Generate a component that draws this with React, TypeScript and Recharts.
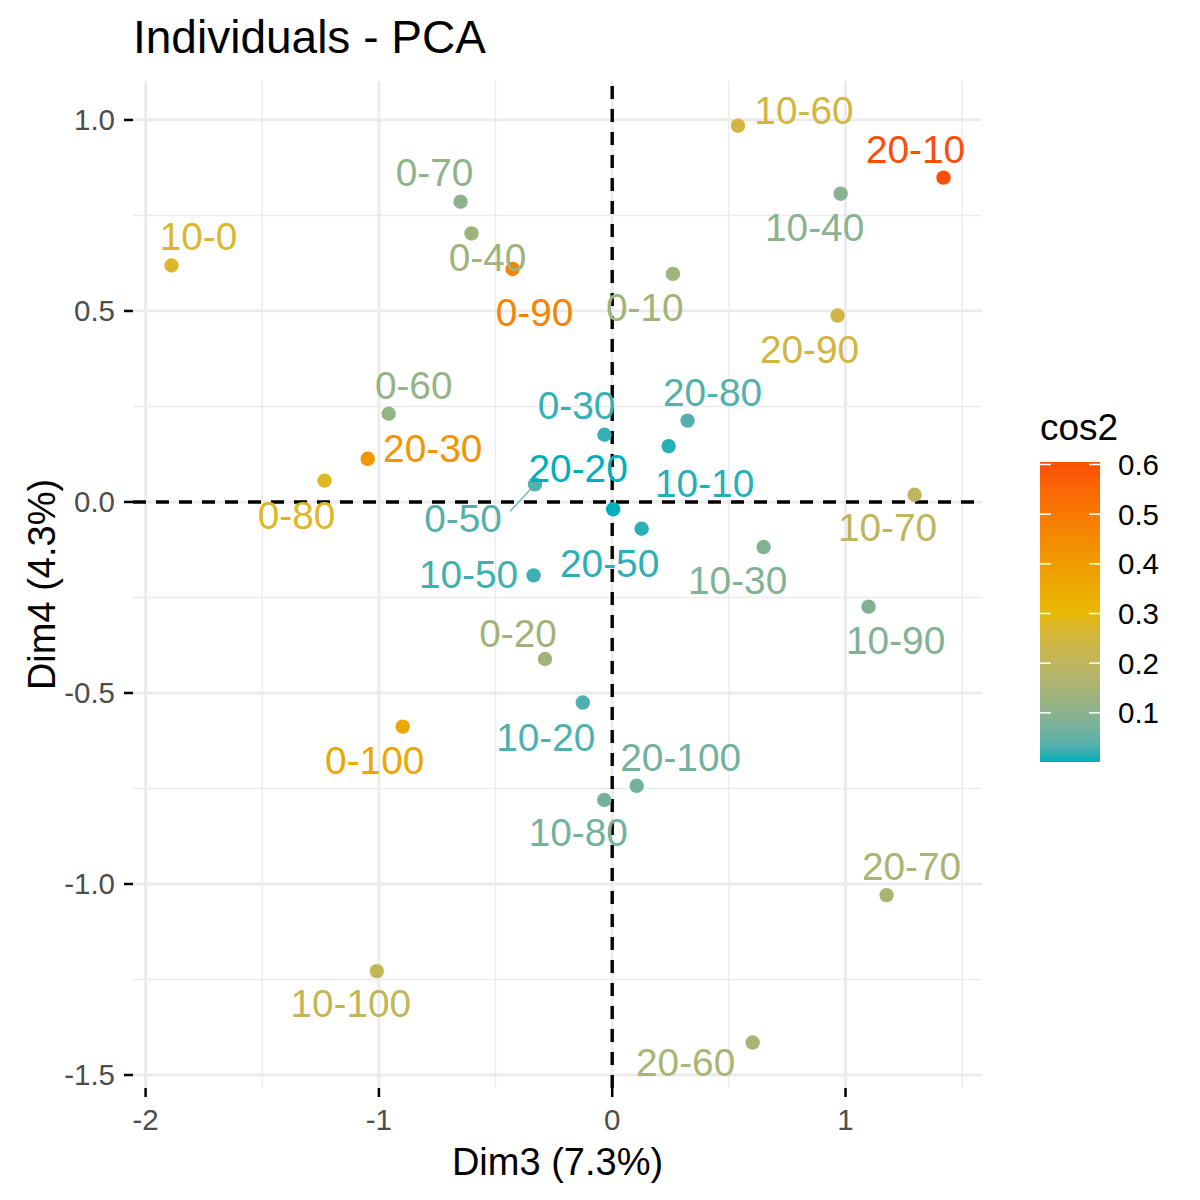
import { ReferenceLine, Scatter, ScatterChart, XAxis, YAxis } from 'recharts'

const names = [
  '0-10', '0-20', '0-30', '0-40', '0-50', '0-60', '0-70', '0-80', '0-90', '0-100',
  '10-0', '10-10', '10-20', '10-30', '10-40', '10-50', '10-60', '10-70', '10-80', '10-90', '10-100',
  '20-10', '20-20', '20-30', '20-50', '20-60', '20-70', '20-80', '20-90', '20-100',
]
const dim3 = [
  0.26, -0.288, -0.033, -0.603, -0.331, -0.958, -0.65, -1.233, -0.427, -0.898,
  -1.889, 0.242, -0.126, 0.649, 0.979, -0.337, 0.539, 1.296, -0.034, 1.099, -1.009,
  1.42, 0.004, -1.048, 0.126, 0.602, 1.176, 0.323, 0.966, 0.105,
]
const dim4 = [
  0.597, -0.411, 0.176, 0.703, 0.046, 0.231, 0.786, 0.056, 0.61, -0.588,
  0.619, 0.146, -0.525, -0.118, 0.807, -0.192, 0.985, 0.019, -0.78, -0.274, -1.228,
  0.849, -0.019, 0.113, -0.07, -1.415, -1.029, 0.213, 0.488, -0.743,
]
const cos2 = [
  0.135, 0.14, 0.015, 0.135, 0.035, 0.115, 0.105, 0.28, 0.47, 0.36,
  0.27, 0.008, 0.03, 0.085, 0.095, 0.02, 0.245, 0.2, 0.065, 0.085, 0.21,
  0.605, 0.001, 0.42, 0.01, 0.155, 0.155, 0.035, 0.24, 0.065,
]

const xTicks = [-2, -1, 0, 1]
const yTicks = [-1.5, -1, -0.5, 0, 0.5, 1]
const xMinor = [-1.5, -0.5, 0.5, 1.5]
const yMinor = [-1.25, -0.75, -0.25, 0.25, 0.75]
const legendTicks = [0.1, 0.2, 0.3, 0.4, 0.5, 0.6]
const gradientCols = ['#00AFBB', '#E7B800', '#FC4E07']

// where ggrepel put each label, in px from its point
const labelNudge: Record<string, { dx: number; dy: number; seg?: [number, number] }> = {
  '0-10': { dx: -28, dy: 33 },
  '0-20': { dx: -27, dy: -26 },
  '0-30': { dx: -28, dy: -30 },
  '0-40': { dx: 16, dy: 24 },
  '0-50': { dx: -72, dy: 34, seg: [-25, 27] },
  '0-60': { dx: 25, dy: -29 },
  '0-70': { dx: -26, dy: -30 },
  '0-80': { dx: -28, dy: 34 },
  '0-90': { dx: 22, dy: 43 },
  '0-100': { dx: -28, dy: 33 },
  '10-0': { dx: 27, dy: -29 },
  '10-10': { dx: 36, dy: 37 },
  '10-20': { dx: -37, dy: 34 },
  '10-30': { dx: -26, dy: 33 },
  '10-40': { dx: -26, dy: 33 },
  '10-50': { dx: -65, dy: -1 },
  '10-60': { dx: 66, dy: -16 },
  '10-70': { dx: -27, dy: 32 },
  '10-80': { dx: -26, dy: 32 },
  '10-90': { dx: 27, dy: 33 },
  '10-100': { dx: -26, dy: 32 },
  '20-10': { dx: -28, dy: -29 },
  '20-20': { dx: -35, dy: -41 },
  '20-30': { dx: 65, dy: -11 },
  '20-50': { dx: -32, dy: 34 },
  '20-60': { dx: -67, dy: 19 },
  '20-70': { dx: 25, dy: -29 },
  '20-80': { dx: 25, dy: -29 },
  '20-90': { dx: -28, dy: 33 },
  '20-100': { dx: 44, dy: -29 },
}

const font = '"Liberation Sans", Arial, sans-serif'

// --- colour scale, interpolated in Lab like scales::gradient_n_pal ---
const toLin = (c: number) => (c <= 0.04045 ? c / 12.92 : Math.pow((c + 0.055) / 1.055, 2.4))
const toGam = (c: number) => (c <= 0.0031308 ? 12.92 * c : 1.055 * Math.pow(c, 1 / 2.4) - 0.055)
const fLab = (t: number) => (t > 0.008856 ? Math.cbrt(t) : 7.787 * t + 16 / 116)
const fInv = (t: number) => (t * t * t > 0.008856 ? t * t * t : (t - 16 / 116) / 7.787)

function hexToLab(hex: string) {
  const r = toLin(parseInt(hex.slice(1, 3), 16) / 255)
  const g = toLin(parseInt(hex.slice(3, 5), 16) / 255)
  const b = toLin(parseInt(hex.slice(5, 7), 16) / 255)
  const X = (0.4124564 * r + 0.3575761 * g + 0.1804375 * b) / 0.95047
  const Y = 0.2126729 * r + 0.7151522 * g + 0.072175 * b
  const Z = (0.0193339 * r + 0.119192 * g + 0.9503041 * b) / 1.08883
  const fx = fLab(X)
  const fy = fLab(Y)
  const fz = fLab(Z)
  return [116 * fy - 16, 500 * (fx - fy), 200 * (fy - fz)]
}

function labToHex([L, a, bb]: number[]) {
  const fy = (L + 16) / 116
  const X = 0.95047 * fInv(fy + a / 500)
  const Y = fInv(fy)
  const Z = 1.08883 * fInv(fy - bb / 200)
  const rgb = [
    3.2404542 * X - 1.5371385 * Y - 0.4985314 * Z,
    -0.969266 * X + 1.8760108 * Y + 0.041556 * Z,
    0.0556434 * X - 0.2040259 * Y + 1.0572252 * Z,
  ]
  return (
    '#' +
    rgb
      .map((c) => Math.round(Math.min(1, Math.max(0, toGam(c))) * 255).toString(16).padStart(2, '0'))
      .join('')
  )
}

const labStops = gradientCols.map(hexToLab)
const cMin = Math.min(...cos2)
const cMax = Math.max(...cos2)

function palette(t: number) {
  const seg = Math.min(labStops.length - 2, Math.floor(t * (labStops.length - 1)))
  const u = t * (labStops.length - 1) - seg
  const a = labStops[seg]
  const b = labStops[seg + 1]
  return labToHex(a.map((v, i) => v + (b[i] - v) * u))
}
const colourOf = (v: number) => palette((v - cMin) / (cMax - cMin))

const points = names.map((name, i) => ({ name, x: dim3[i], y: dim4[i], color: colourOf(cos2[i]) }))

function PointShape(props: any) {
  return <circle cx={props.cx} cy={props.cy} r={7.2} fill={props.payload.color} />
}

function LabelShape(props: any) {
  const { cx, cy, payload } = props
  const n = labelNudge[payload.name] ?? { dx: 0, dy: -28 }
  let segment = null
  if (n.seg) {
    const len = Math.hypot(n.seg[0], n.seg[1])
    segment = (
      <line
        x1={cx + (n.seg[0] / len) * 6}
        y1={cy + (n.seg[1] / len) * 6}
        x2={cx + n.seg[0]}
        y2={cy + n.seg[1]}
        stroke={payload.color}
        strokeWidth={1.2}
      />
    )
  }
  return (
    <g>
      {segment}
      <text
        x={cx + n.dx}
        y={cy + n.dy}
        dy="0.36em"
        textAnchor="middle"
        fill={payload.color}
        fontSize={38.8}
        fontFamily={font}
      >
        {payload.name}
      </text>
    </g>
  )
}

// colour bar geometry
const bar = { x: 1040, y: 462, w: 60, h: 300 }
const barY = (v: number) => bar.y + bar.h - ((v - cMin) / (cMax - cMin)) * bar.h
const gradStops = Array.from({ length: 21 }, (_, i) => i / 20)

const tickStyle = { fill: '#4D4D4D', fontSize: 29.5, fontFamily: font }
const gridColour = '#EBEBEB'

export default function App() {
  return (
    <div style={{ position: 'absolute', left: 0, top: 0, width: 1200, height: 1200, background: '#fff' }}>
      <ScatterChart width={1200} height={1200} margin={{ top: 81, right: 218, bottom: 52, left: 33 }}>
        {xMinor.map((v) => (
          <ReferenceLine key={`mx${v}`} x={v} stroke={gridColour} strokeWidth={1.4} />
        ))}
        {yMinor.map((v) => (
          <ReferenceLine key={`my${v}`} y={v} stroke={gridColour} strokeWidth={1.4} />
        ))}
        {xTicks.map((v) => (
          <ReferenceLine key={`gx${v}`} x={v} stroke={gridColour} strokeWidth={2.8} />
        ))}
        {yTicks.map((v) => (
          <ReferenceLine key={`gy${v}`} y={v} stroke={gridColour} strokeWidth={2.8} />
        ))}
        <XAxis
          type="number"
          dataKey="x"
          domain={[-2.054, 1.585]}
          ticks={xTicks}
          interval={0}
          allowDataOverflow
          height={60}
          axisLine={false}
          tickSize={9}
          tickMargin={12}
          tickLine={{ stroke: '#000', strokeWidth: 2.5 }}
          tick={tickStyle}
          tickFormatter={(v: number) => String(v)}
        />
        <YAxis
          type="number"
          dataKey="y"
          domain={[-1.534, 1.102]}
          ticks={yTicks}
          interval={0}
          allowDataOverflow
          width={100}
          axisLine={false}
          tickSize={9}
          tickMargin={9}
          tickLine={{ stroke: '#000', strokeWidth: 2.5 }}
          tick={tickStyle}
          tickFormatter={(v: number) => v.toFixed(1)}
        />
        <ReferenceLine x={0} stroke="#000" strokeWidth={3.4} strokeDasharray="13 10" />
        <ReferenceLine y={0} stroke="#000" strokeWidth={3.4} strokeDasharray="13 10" />
        <Scatter data={points} shape={PointShape} isAnimationActive={false} />
        <Scatter data={points} shape={LabelShape} isAnimationActive={false} />
      </ScatterChart>

      <svg
        width={1200}
        height={1200}
        style={{ position: 'absolute', left: 0, top: 0, pointerEvents: 'none' }}
      >
        <defs>
          <linearGradient id="cos2bar" x1="0" y1="1" x2="0" y2="0">
            {gradStops.map((t) => (
              <stop key={t} offset={t} stopColor={palette(t)} />
            ))}
          </linearGradient>
        </defs>

        <text x={133} y={53} fontSize={46} fontFamily={font} fill="#000">
          Individuals - PCA
        </text>
        <text x={557.5} y={1175} textAnchor="middle" fontSize={38} fontFamily={font} fill="#000">
          Dim3 (7.3%)
        </text>
        <text
          x={55}
          y={584.5}
          transform="rotate(-90 55 584.5)"
          textAnchor="middle"
          fontSize={38}
          fontFamily={font}
          fill="#000"
        >
          Dim4 (4.3%)
        </text>

        {/* légende cos2 */}
        <text x={1040} y={440} fontSize={37} fontFamily={font} fill="#000">
          cos2
        </text>
        <rect x={bar.x} y={bar.y} width={bar.w} height={bar.h} fill="url(#cos2bar)" />
        {legendTicks.map((v) => (
          <g key={v}>
            <line x1={bar.x} x2={bar.x + 11} y1={barY(v)} y2={barY(v)} stroke="#fff" strokeWidth={1.5} />
            <line
              x1={bar.x + bar.w - 11}
              x2={bar.x + bar.w}
              y1={barY(v)}
              y2={barY(v)}
              stroke="#fff"
              strokeWidth={1.5}
            />
            <text x={1118} y={barY(v)} dy="0.36em" fontSize={29.5} fontFamily={font} fill="#000">
              {v.toFixed(1)}
            </text>
          </g>
        ))}
      </svg>
    </div>
  )
}
